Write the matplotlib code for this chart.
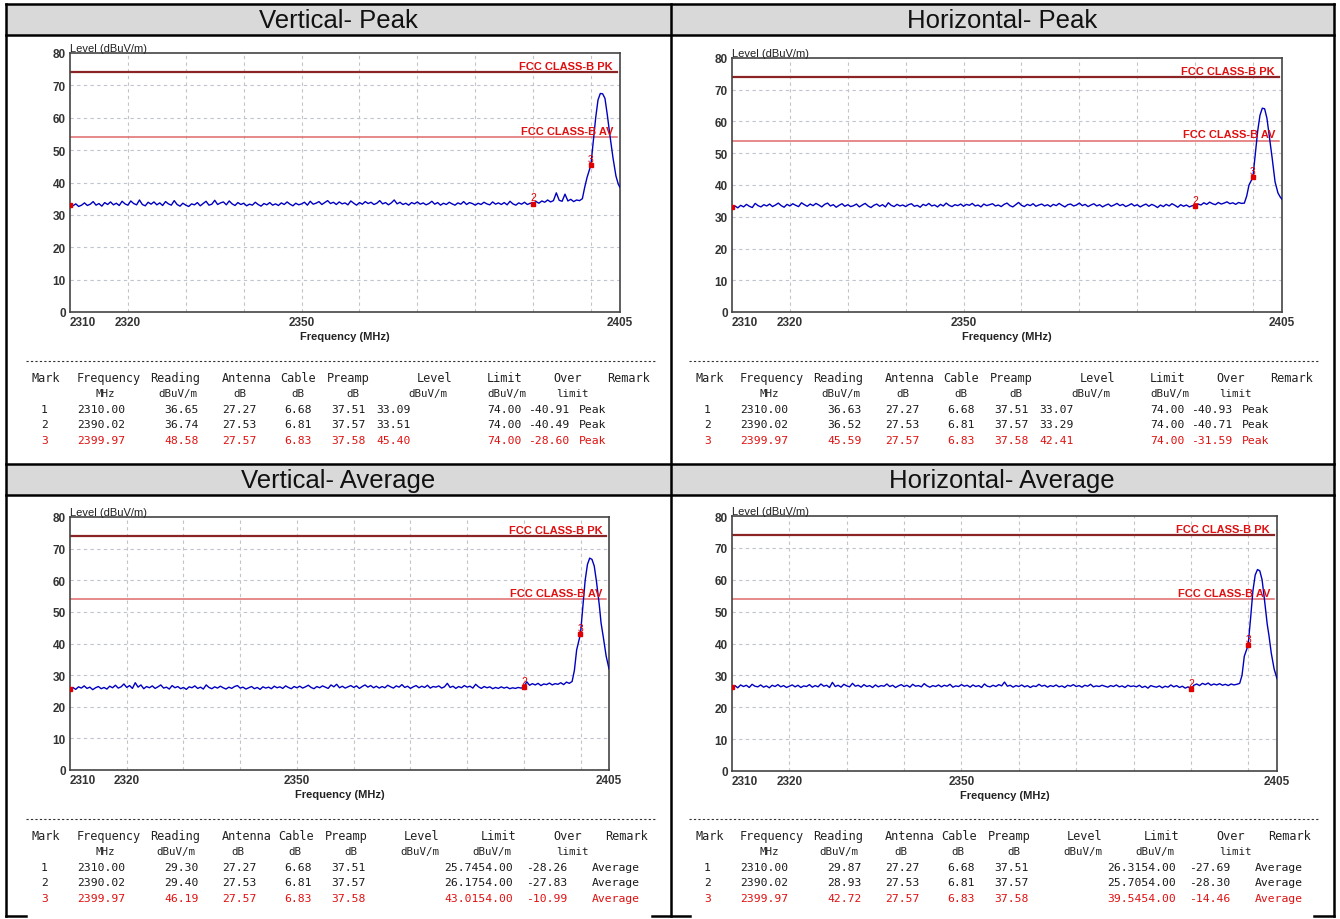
import numpy as np
import matplotlib
matplotlib.use('Agg')
import matplotlib.pyplot as plt
from matplotlib.patches import Rectangle

W, H = 1340, 920

# noise floor, 0.5 MHz steps from 2310 to 2398
vp_floor = [
    33.1, 32.8, 33.4, 32.6, 33.0, 33.7, 32.9, 33.3, 34.1, 33.0,
    33.5, 32.7, 33.8, 33.2, 34.0, 33.1, 33.6, 32.9, 34.2, 33.4,
    33.0, 34.3, 33.5, 33.1, 34.6, 33.2, 32.8, 33.9, 33.3, 34.0,
    33.1, 33.7, 32.9, 34.1, 33.4, 33.0, 34.4, 33.2, 32.7, 33.6,
    33.0, 32.6, 33.4, 33.1, 33.8, 32.8, 33.5, 34.2, 33.0, 33.3,
    34.5, 33.2, 33.7, 34.0, 33.1, 34.3, 33.4, 32.9, 33.8, 33.2,
    33.6, 32.8, 33.3, 33.0, 33.9, 33.2, 32.7, 33.5, 33.1, 33.8,
    33.0, 33.4, 32.9, 33.7, 33.2, 34.0, 33.3, 32.8, 33.6, 33.1,
    33.4, 33.9, 33.0, 34.2, 33.3, 33.6, 34.1, 33.2, 33.8, 34.4,
    33.5, 33.9, 33.2, 34.0, 33.4, 33.7, 33.1, 34.3, 33.6, 33.0,
    33.8, 33.3, 34.1, 33.5, 33.9, 33.2, 33.6, 34.4, 33.4, 33.8,
    33.1, 33.7, 34.6, 33.4, 33.9, 33.2, 33.6, 33.0, 33.8, 33.4,
    34.0, 33.3, 33.7, 33.1, 33.5, 34.2, 33.3, 33.8, 33.0, 33.6,
    33.2, 33.9, 33.4, 33.0, 33.7, 33.3, 34.1, 33.2, 33.8, 33.5,
    33.0, 33.6, 33.2, 33.9, 33.4, 33.1, 34.0, 33.3, 33.7, 33.2,
    33.8, 33.1, 34.2, 33.4, 33.0, 33.7, 33.3, 33.9, 33.2, 33.6,
    33.5, 34.1, 33.6, 34.3, 33.9, 34.6, 34.0, 34.4, 36.8, 34.5,
    34.2, 36.4, 34.3, 34.8, 34.1, 34.6, 34.4,
]
vp_peak_freq = [2398.5, 2398.9, 2399.3, 2399.97, 2400.4, 2400.8, 2401.2, 2401.6,
                2402.0, 2402.4, 2402.8, 2403.3, 2403.8, 2404.3, 2404.7, 2405.0]
vp_peak_level = [35.0, 38.5, 41.5, 45.4, 53.0, 60.0, 65.5, 67.5,
                 67.4, 66.0, 61.0, 54.0, 47.5, 42.0, 39.5, 38.5]

hp_floor = [
    33.0, 33.4, 32.8, 33.6, 33.1, 33.9, 33.3, 32.9, 34.2, 33.5,
    33.1, 33.8, 33.4, 34.0, 33.2, 33.7, 34.3, 33.5, 33.0, 33.9,
    33.4, 34.1, 33.6, 33.2, 34.4, 33.8, 33.3, 34.0, 33.5, 34.2,
    33.7, 33.1, 33.9, 34.3, 33.4, 33.8, 33.0, 33.6, 34.1, 33.3,
    33.8, 33.2, 33.5, 34.0, 33.1, 33.7, 34.2, 33.4, 32.9, 33.6,
    34.0, 33.3, 33.8, 33.1, 34.4, 33.6, 33.2, 33.9, 33.4, 33.7,
    33.2, 33.8, 34.1, 33.3, 33.6, 33.0, 33.9, 33.5, 34.2, 33.4,
    33.7, 33.1, 33.9, 33.4, 34.3, 33.6, 33.2, 33.8, 33.5, 34.0,
    33.3, 33.9, 33.6, 34.2, 33.4, 33.7, 33.1, 34.0, 33.5, 33.8,
    34.1, 33.4, 33.7, 33.2, 33.9, 34.3, 33.5, 33.1, 33.8, 34.5,
    33.6, 33.2, 33.9, 33.5, 34.1, 33.3, 33.7, 34.0, 33.4, 33.8,
    33.2, 33.9, 33.5, 34.2, 33.6, 33.1, 33.8, 34.0, 33.4, 33.7,
    34.3, 33.5, 33.9, 33.2, 33.7, 34.1, 33.4, 33.8, 33.1, 33.6,
    34.0, 33.3, 33.7, 34.2, 33.5, 33.9, 33.2, 33.6, 34.1, 33.4,
    33.8, 33.1, 33.6, 34.0, 33.3, 33.9, 33.5, 32.9, 33.7, 33.2,
    33.9, 33.4, 34.1, 33.6, 33.0, 33.8, 33.3, 33.7, 33.1, 33.5,
    33.3, 34.0, 33.7, 34.4, 33.9, 34.6, 34.1, 33.8, 34.5, 34.0,
    34.3, 34.7, 34.1, 34.4, 33.9, 34.5, 34.2,
]
hp_peak_freq = [2398.5, 2398.9, 2399.3, 2399.97, 2400.4, 2400.8, 2401.2, 2401.6,
                2402.0, 2402.4, 2402.8, 2403.3, 2403.8, 2404.3, 2404.7, 2405.0]
hp_peak_level = [34.3, 36.5, 40.0, 42.4, 50.0, 57.0, 62.0, 64.2,
                 64.0, 61.0, 55.5, 48.5, 41.0, 37.5, 36.2, 35.5]

va_floor = [
    25.7, 26.1, 25.5, 26.3, 25.9, 26.6, 25.8, 26.2, 25.4, 26.0,
    26.4, 25.7, 26.1, 25.6, 26.5, 26.0, 26.8, 25.9, 26.3, 27.2,
    26.1, 26.7, 25.8, 27.6, 26.2, 26.9, 25.7, 26.4, 26.0, 26.6,
    25.8, 26.3, 26.9, 25.9, 26.2, 25.6, 26.7, 26.0, 26.4, 25.7,
    26.1, 25.5, 26.3, 26.0, 26.6, 25.8, 26.2, 25.6, 26.9, 26.1,
    25.7, 26.3, 25.9, 26.5, 26.0, 25.6, 26.2, 25.8, 26.4, 26.7,
    25.9, 26.2, 25.6, 26.0, 26.4, 25.7, 26.1, 25.5, 26.3, 25.9,
    26.2, 25.7, 26.5, 26.0, 26.3, 25.8, 26.6, 26.1, 25.7, 26.4,
    26.0, 26.5, 25.9, 26.3, 26.8, 26.1, 25.7, 26.4, 26.0, 26.6,
    26.2, 25.8, 26.9, 26.3, 27.1, 26.0, 26.5, 25.9, 26.3, 26.7,
    26.1, 26.6, 25.8, 26.4, 26.9, 26.2, 26.7, 26.0, 26.5, 25.9,
    26.4, 26.0, 26.8, 26.3, 25.9, 26.6, 26.2, 27.0, 26.1, 26.5,
    25.8, 26.3, 26.7, 26.0, 26.5, 26.1, 26.8, 25.9, 26.4, 26.2,
    26.6, 25.9, 26.3, 27.4, 26.1, 26.5, 25.8, 26.4, 26.0, 26.7,
    26.2, 26.5, 25.9, 27.1, 26.3, 25.8, 26.4, 26.0, 26.3, 25.7,
    26.1, 25.8, 26.3, 25.9, 26.2, 25.7, 26.0, 25.8, 26.1, 25.9,
    26.2, 27.9, 26.8, 27.3, 26.9, 27.4, 26.7, 27.2, 27.0, 27.5,
    26.9, 27.3, 27.1, 27.6, 27.0, 27.8, 27.4,
]
va_peak_freq = [2398.5, 2398.9, 2399.3, 2399.97, 2400.4, 2400.8, 2401.2, 2401.6,
                2402.0, 2402.4, 2402.8, 2403.3, 2403.6, 2404.0, 2404.5, 2405.0]
va_peak_level = [28.0, 31.5, 38.0, 43.0, 52.0, 60.0, 65.0, 67.0,
                 66.6, 64.5, 59.5, 52.0, 46.5, 42.0, 36.0, 32.0]

ha_floor = [
    26.3, 26.8, 26.1, 27.0, 26.5, 26.9, 26.2, 27.2, 26.6, 26.4,
    27.0, 26.3, 26.7, 26.1, 26.9, 26.5, 27.1, 26.4, 26.8, 26.2,
    26.6, 27.0, 26.4, 26.9, 26.2, 26.7, 26.5, 27.1, 26.3, 26.8,
    26.4, 27.3, 26.6, 26.9, 26.2, 27.8, 26.5, 26.9, 26.3, 27.2,
    26.7, 26.4, 27.5, 26.6, 26.9, 26.3, 27.1, 26.5, 26.8, 26.2,
    27.0, 26.4, 26.8, 26.6, 27.3, 26.5, 26.9, 26.2, 26.7, 27.1,
    26.5, 26.9, 26.3, 27.2, 26.6, 26.8, 26.4, 27.4, 26.7, 26.3,
    26.8, 26.5, 27.0, 26.4, 26.9, 26.6, 27.2, 26.3, 26.7, 26.5,
    27.1, 26.6, 26.9, 26.3, 27.0, 26.5, 26.8, 26.2, 27.3, 26.6,
    26.4, 26.9, 26.5, 27.1, 26.7, 27.9, 26.6, 26.9, 26.3, 26.8,
    26.5, 27.0, 26.4, 26.8, 26.2, 26.7, 26.5, 27.2, 26.6, 26.9,
    26.3, 26.8, 26.5, 27.0, 26.4, 26.7, 26.2, 26.9, 26.6, 27.1,
    26.5, 26.8, 26.3, 26.9, 26.6, 27.2, 26.4, 26.7, 26.5, 26.9,
    26.6, 26.3, 26.8, 26.5, 27.0, 26.4, 26.7, 26.2, 26.9, 26.5,
    26.7, 26.4, 26.9, 26.2, 26.6, 26.0, 26.8, 26.5, 26.3, 26.7,
    26.1, 26.6, 26.3, 27.0, 26.4, 26.8, 26.2, 26.6, 26.0, 26.4,
    25.7, 26.9, 27.3, 26.8, 27.5, 27.1, 27.6, 26.9, 27.3, 27.0,
    27.4, 26.9, 27.2, 26.8, 27.3, 27.0, 27.2,
]
ha_peak_freq = [2398.5, 2398.9, 2399.3, 2399.97, 2400.4, 2400.8, 2401.2, 2401.6,
                2402.0, 2402.4, 2402.8, 2403.3, 2403.6, 2404.0, 2404.5, 2405.0]
ha_peak_level = [27.5, 30.0, 36.0, 39.5, 48.0, 56.5, 61.5, 63.2,
                 62.8, 60.0, 54.0, 46.0, 42.5, 37.0, 32.0, 29.0]

# marker table values
mark_no = ['1', '2', '3']
mark_freq = [2310.00, 2390.02, 2399.97]
antenna = [27.27, 27.53, 27.57]
cable = [6.68, 6.81, 6.83]
preamp = [37.51, 37.57, 37.58]

vp_reading = [36.65, 36.74, 48.58]
vp_level = [33.09, 33.51, 45.40]
vp_over = [-40.91, -40.49, -28.60]
hp_reading = [36.63, 36.52, 45.59]
hp_level = [33.07, 33.29, 42.41]
hp_over = [-40.93, -40.71, -31.59]
va_reading = [29.30, 29.40, 46.19]
va_level = [25.74, 26.17, 43.01]
va_over = [-28.26, -27.83, -10.99]
ha_reading = [29.87, 28.93, 42.72]
ha_level = [26.31, 25.70, 39.54]
ha_over = [-27.69, -28.30, -14.46]

pk_limit = 74.00
av_limit = 54.00

x_ticks = [2310, 2320, 2350, 2405]
grid_freq = [2320, 2330, 2340, 2350, 2360, 2370, 2380, 2390, 2400]
y_ticks = [0, 10, 20, 30, 40, 50, 60, 70, 80]

SANS = ['Liberation Sans', 'DejaVu Sans']
MONO = ['DejaVu Sans Mono']
RED = '#e01010'

fig = plt.figure(figsize=(W / 100, H / 100), dpi=100)
fig.patch.set_facecolor('white')

bg = fig.add_axes([0, 0, 1, 1])
bg.set_xlim(0, W)
bg.set_ylim(H, 0)
bg.axis('off')


def px_axes(x0, y0, x1, y1):
    return fig.add_axes([x0 / W, 1 - y1 / H, (x1 - x0) / W, (y1 - y0) / H])


# table frame and header bands
for yt in (5, 465):
    bg.add_patch(Rectangle((6, yt), 1328, 31, facecolor='#d9d9d9', edgecolor='none'))
    bg.plot([6, 1334], [yt, yt], color='black', lw=1.8)
    bg.plot([6, 1334], [yt + 31, yt + 31], color='black', lw=1.8)
for xv in (6, 671, 1334):
    bg.plot([xv, xv], [5, 917], color='black', lw=1.8)
for xa, xb in ((6, 26), (652, 690), (1314, 1334)):
    bg.plot([xa, xb], [917, 917], color='black', lw=1.8)

titles = [('Vertical- Peak', 338, 21), ('Horizontal- Peak', 1002, 21),
          ('Vertical- Average', 338, 481), ('Horizontal- Average', 1002, 481)]
for t, tx, ty in titles:
    bg.text(tx, ty, t, ha='center', va='center', fontsize=18.5, family=SANS, color='#111111')


def draw_chart(box, floor, pk_f, pk_l, mk_level):
    ax = px_axes(*box)
    freq = np.concatenate([2310 + 0.5 * np.arange(len(floor)), pk_f])
    level = np.concatenate([floor, pk_l])
    ax.set_xlim(2310, 2405)
    ax.set_ylim(0, 80)
    for g in grid_freq:
        ax.axvline(g, color='#c4c4c4', lw=0.8, ls=(0, (3, 3)), zorder=1)
    for g in y_ticks[1:-1]:
        ax.axhline(g, color='#c0c4d0', lw=0.8, ls=(0, (3, 3)), zorder=1)
    ax.plot([2310, 2404.5], [pk_limit, pk_limit], color='#8b2525', lw=1.6, zorder=2)
    ax.plot([2310, 2404.5], [av_limit, av_limit], color='#e06a6a', lw=1.1, zorder=2)
    ax.text(2403.8, pk_limit + 0.4, 'FCC CLASS-B PK', ha='right', va='bottom',
            color=RED, fontsize=8, fontweight='bold', family=SANS, zorder=5)
    ax.text(2403.8, av_limit + 0.4, 'FCC CLASS-B AV', ha='right', va='bottom',
            color=RED, fontsize=8, fontweight='bold', family=SANS, zorder=5)
    ax.plot(freq, level, color='#0000c0', lw=1.0, zorder=3)
    ax.plot(mark_freq, mk_level, 's', color='#e00000', ms=2.6, zorder=4)
    for n, f, lv in zip(mark_no[1:], mark_freq[1:], mk_level[1:]):
        ax.annotate(n, (f, lv), xytext=(0, 1), textcoords='offset points',
                    ha='center', va='bottom', color='#e00000', fontsize=7.5,
                    family=SANS, zorder=5)
    ax.set_xticks(x_ticks)
    ax.set_yticks(y_ticks)
    ax.tick_params(length=0, labelsize=8.5, pad=3, colors='#333333')
    for lab in ax.get_xticklabels() + ax.get_yticklabels():
        lab.set_fontweight('bold')
        lab.set_family(SANS)
    ax.get_xticklabels()[0].set_ha('left')
    for s in ax.spines.values():
        s.set_color('#444444')
        s.set_linewidth(1.2)
    ax.set_xlabel('Frequency (MHz)', fontsize=8, fontweight='bold', family=SANS,
                  color='#222222', labelpad=2)
    ax.text(0, 1.0, 'Level (dBuV/m)', transform=ax.transAxes, ha='left', va='bottom',
            fontsize=8, family=SANS, color='#222222')
    return ax


draw_chart((70, 54, 620, 313), vp_floor, vp_peak_freq, vp_peak_level, vp_level)
draw_chart((732, 59, 1282, 313), hp_floor, hp_peak_freq, hp_peak_level, hp_level)
draw_chart((70, 518, 609, 771), va_floor, va_peak_freq, va_peak_level, va_level)
draw_chart((732, 517, 1277, 772), ha_floor, ha_peak_freq, ha_peak_level, ha_level)

# data tables
head1 = ['Mark', 'Frequency', 'Reading', 'Antenna', 'Cable', 'Preamp', 'Level', 'Limit', 'Over', 'Remark']
head2 = ['MHz', 'dBuV/m', 'dB', 'dB', 'dB', 'dBuV/m', 'dBuV/m', 'limit']

pk_h1_x = [32, 77, 150, 222, 280, 327, 417, 487, 553, 607]
pk_h2_x = [96, 158, 233, 291, 346, 408, 487, 556]
pk_d_x = [41, 77, 164, 222, 284, 331, 376, 487, 528, 579]
av_h1_x = [32, 77, 150, 222, 278, 325, 404, 481, 553, 605]
av_h2_x = [96, 156, 231, 288, 344, 400, 472, 556]
av_d_x = [41, 77, 164, 222, 284, 331, 444, 526, 592]


def draw_table(dx, y0, average, reading, level, over):
    bg.plot([dx + 26, dx + 656], [y0, y0], color='#333333', lw=0.8, ls=(0, (2, 2)))
    h1x, h2x, dxs = (av_h1_x, av_h2_x, av_d_x) if average else (pk_h1_x, pk_h2_x, pk_d_x)
    for t, x in zip(head1, h1x):
        bg.text(dx + x, y0 + 17, t, ha='left', va='center', fontsize=8.6, family=MONO, color='#222222')
    for t, x in zip(head2, h2x):
        bg.text(dx + x, y0 + 32, t, ha='left', va='center', fontsize=7.8, family=MONO, color='#222222')
    for i in range(3):
        row = [mark_no[i], f'{mark_freq[i]:.2f}', f'{reading[i]:.2f}', f'{antenna[i]:.2f}',
               f'{cable[i]:.2f}', f'{preamp[i]:.2f}']
        if average:
            row += [f'{level[i]:.2f}{av_limit:.2f}', f'{over[i]:.2f}', 'Average']
        else:
            row += [f'{level[i]:.2f}', f'{pk_limit:.2f}', f'{over[i]:.2f}', 'Peak']
        col = RED if i == 2 else '#1a1a1a'
        for t, x in zip(row, dxs):
            bg.text(dx + x, y0 + 48 + 15.5 * i, t, ha='left', va='center', fontsize=8.2,
                    family=MONO, color=col)


draw_table(0, 362, False, vp_reading, vp_level, vp_over)
draw_table(663, 362, False, hp_reading, hp_level, hp_over)
draw_table(0, 820, True, va_reading, va_level, va_over)
draw_table(663, 820, True, ha_reading, ha_level, ha_over)

fig.savefig('out.png', dpi=100, facecolor='white')
